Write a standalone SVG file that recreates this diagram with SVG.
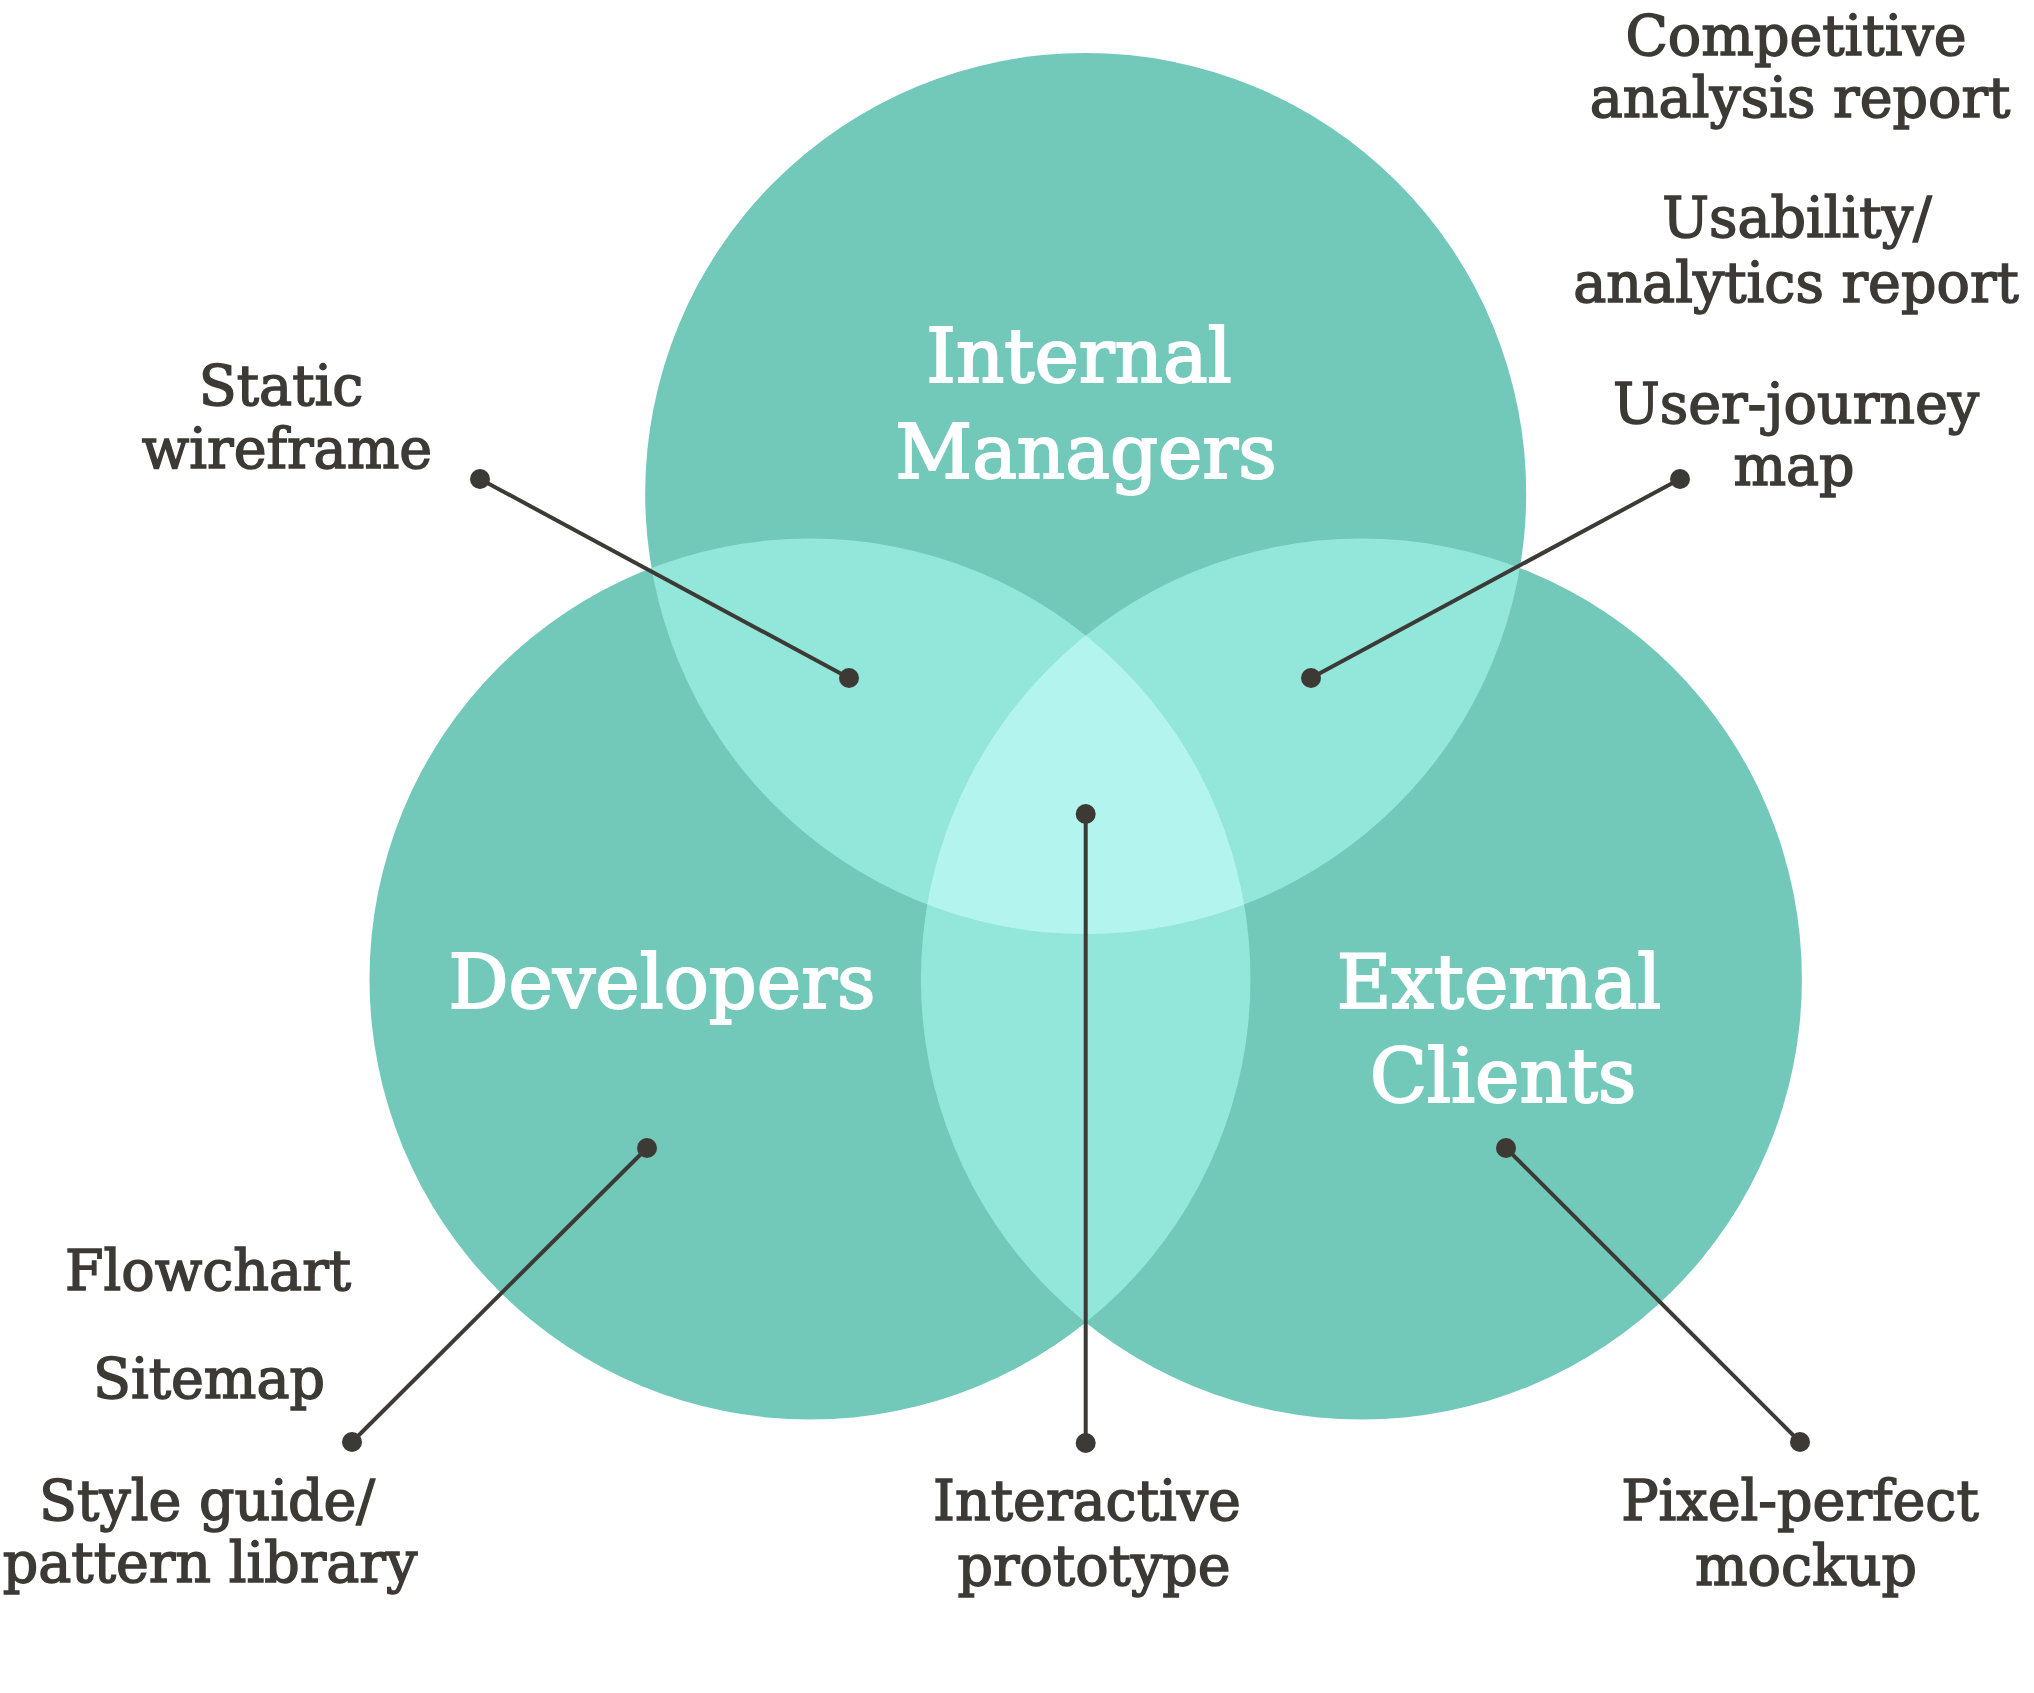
<svg xmlns="http://www.w3.org/2000/svg" width="2034" height="1693" viewBox="0 0 2034 1693">
<style>
.base{fill:#72c8b9}
.pair{fill:#92e6da}
.tri{fill:#b3f4ee}
.lbl{font-family:"DejaVu Serif","Liberation Serif",serif;font-size:55.5px;fill:#3d3a35;stroke:#3d3a35;stroke-width:1.5;text-anchor:middle}
.ttl{font-family:"DejaVu Serif","Liberation Serif",serif;font-size:75px;fill:#ffffff;stroke:#ffffff;stroke-width:2;text-anchor:middle}
.con line{stroke:#3d3a35;stroke-width:4}
.con circle{fill:#3d3a35}
</style>
<defs>
<clipPath id="cTop"><circle cx="1085.7" cy="493.5" r="440.5"/></clipPath>
<clipPath id="cLeft"><circle cx="810" cy="979" r="440.5"/></clipPath>
<clipPath id="cRight"><circle cx="1361.4" cy="979" r="440.5"/></clipPath>
</defs>
<rect width="2034" height="1693" fill="#ffffff"/>
<g id="circles">
<circle class="base" cx="1085.7" cy="493.5" r="440.5"/>
<circle class="base" cx="810" cy="979" r="440.5"/>
<circle class="base" cx="1361.4" cy="979" r="440.5"/>
<g clip-path="url(#cTop)"><circle class="pair" cx="810" cy="979" r="440.5"/><circle class="pair" cx="1361.4" cy="979" r="440.5"/></g>
<g clip-path="url(#cLeft)"><circle class="pair" cx="1361.4" cy="979" r="440.5"/></g>
<g clip-path="url(#cTop)"><g clip-path="url(#cLeft)"><circle class="tri" cx="1361.4" cy="979" r="440.5"/></g></g>
</g>
<g id="node-internal-managers"><text class="ttl" x="1079" y="382">Internal</text><text class="ttl" x="1086" y="478">Managers</text></g>
<g id="node-developers"><text class="ttl" x="662" y="1008">Developers</text></g>
<g id="node-external-clients"><text class="ttl" x="1499" y="1008">External</text><text class="ttl" x="1503" y="1102">Clients</text></g>
<g id="connectors" class="con">
<line x1="480" y1="479" x2="849" y2="678"/><circle cx="480" cy="479" r="10"/><circle cx="849" cy="678" r="10"/>
<line x1="1680" y1="479" x2="1311" y2="678"/><circle cx="1680" cy="479" r="10"/><circle cx="1311" cy="678" r="10"/>
<line x1="1085.7" y1="814" x2="1085.7" y2="1443"/><circle cx="1085.7" cy="814" r="10"/><circle cx="1085.7" cy="1443" r="10"/>
<line x1="647" y1="1148" x2="352" y2="1442"/><circle cx="647" cy="1148" r="10"/><circle cx="352" cy="1442" r="10"/>
<line x1="1506" y1="1148" x2="1800" y2="1442"/><circle cx="1506" cy="1148" r="10"/><circle cx="1800" cy="1442" r="10"/>
</g>
<g id="node-competitive"><text class="lbl" x="1796" y="55">Competitive</text><text class="lbl" x="1800" y="117">analysis report</text></g>
<g id="node-usability"><text class="lbl" x="1797" y="237">Usability/</text><text class="lbl" x="1796" y="302">analytics report</text></g>
<g id="node-user-journey"><text class="lbl" x="1796" y="423">User-journey</text><text class="lbl" x="1794" y="485">map</text></g>
<g id="node-static-wireframe"><text class="lbl" x="281" y="405">Static</text><text class="lbl" x="287" y="468">wireframe</text></g>
<g id="node-flowchart"><text class="lbl" x="208" y="1290">Flowchart</text></g>
<g id="node-sitemap"><text class="lbl" x="209" y="1398">Sitemap</text></g>
<g id="node-style-guide"><text class="lbl" x="207" y="1520">Style guide/</text><text class="lbl" x="210" y="1582">pattern library</text></g>
<g id="node-interactive-prototype"><text class="lbl" x="1087" y="1520">Interactive</text><text class="lbl" x="1094" y="1585">prototype</text></g>
<g id="node-pixel-perfect"><text class="lbl" x="1800" y="1520">Pixel-perfect</text><text class="lbl" x="1806" y="1585">mockup</text></g>
</svg>
